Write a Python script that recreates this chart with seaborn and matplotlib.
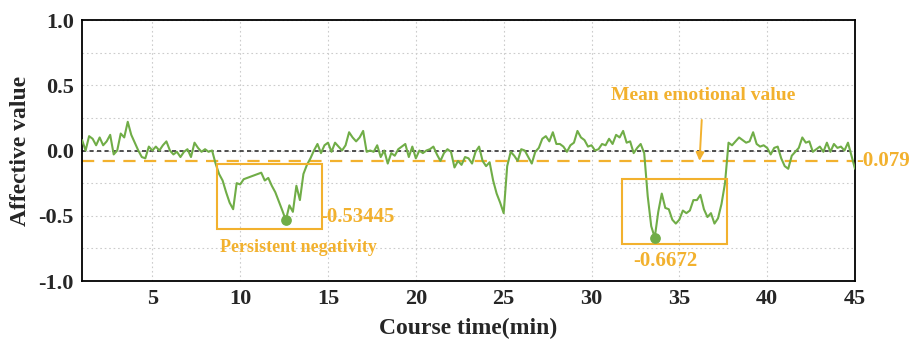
import numpy as np
import pandas as pd
import matplotlib
matplotlib.use("Agg")
import matplotlib.pyplot as plt
import seaborn as sns
from matplotlib.patches import Rectangle
from matplotlib.ticker import MultipleLocator

# affective value sampled every 0.2 min, 1.0 -> 45.0 (5 values per minute row)
affect_values = [
    0.08, 0.00, 0.11, 0.09, 0.04,      # 1
    0.10, 0.04, 0.07, 0.12, -0.03,     # 2
    0.00, 0.13, 0.10, 0.22, 0.12,      # 3
    0.06, 0.00, -0.05, -0.06, 0.03,    # 4
    0.00, 0.03, 0.00, 0.04, 0.07,      # 5
    0.00, -0.03, -0.01, -0.05, -0.01,  # 6
    0.01, -0.05, 0.06, 0.02, -0.01,    # 7
    0.01, -0.01, 0.00, -0.10, -0.18,   # 8
    -0.23, -0.32, -0.40, -0.45, -0.25, # 9
    -0.26, -0.22, -0.21, -0.20, -0.19, # 10
    -0.18, -0.17, -0.23, -0.21, -0.27, # 11
    -0.32, -0.39, -0.46, -0.53445, -0.42,  # 12
    -0.47, -0.27, -0.38, -0.18, -0.11, # 13
    -0.06, 0.00, 0.05, -0.02, 0.04,    # 14
    0.06, -0.01, 0.06, 0.03, 0.00,     # 15
    0.04, 0.14, 0.10, 0.07, 0.10,      # 16
    0.15, -0.01, 0.00, -0.01, 0.04,    # 17
    -0.05, 0.00, -0.10, -0.02, -0.04,  # 18
    0.01, 0.03, 0.05, -0.05, 0.03,     # 19
    -0.06, 0.00, -0.02, 0.00, 0.01,    # 20
    0.03, -0.03, -0.08, -0.02, 0.01,   # 21
    -0.01, -0.13, -0.08, -0.11, -0.05, # 22
    -0.06, -0.10, -0.01, 0.03, -0.08,  # 23
    -0.12, -0.09, -0.23, -0.33, -0.40, # 24
    -0.48, -0.12, -0.01, -0.04, -0.08, # 25
    0.01, 0.00, -0.05, -0.10, -0.01,   # 26
    0.02, 0.09, 0.11, 0.07, 0.14,      # 27
    0.05, 0.05, 0.03, -0.01, 0.04,     # 28
    0.06, 0.15, 0.10, 0.08, 0.03,      # 29
    0.04, 0.00, 0.01, 0.05, 0.04,      # 30
    0.09, 0.05, 0.12, 0.10, 0.15,      # 31
    0.06, 0.07, -0.02, 0.02, 0.05,     # 32
    -0.02, -0.35, -0.58, -0.6672, -0.47,   # 33
    -0.33, -0.44, -0.45, -0.53, -0.56, # 34
    -0.53, -0.46, -0.48, -0.46, -0.38, # 35
    -0.38, -0.34, -0.45, -0.51, -0.48, # 36
    -0.56, -0.52, -0.41, -0.25, 0.06,  # 37
    0.04, 0.07, 0.10, 0.08, 0.06,      # 38
    0.07, 0.14, 0.05, 0.03, 0.04,      # 39
    0.02, -0.03, 0.02, 0.03, -0.06,    # 40
    -0.12, -0.14, -0.04, -0.01, 0.02,  # 41
    0.10, 0.06, 0.07, -0.01, 0.01,     # 42
    0.03, -0.01, 0.06, -0.01, 0.05,    # 43
    0.02, 0.03, 0.00, 0.06, -0.04,     # 44
    -0.14,                             # 45
]
course_time = np.linspace(1, 45, len(affect_values))

mean_value = -0.079
low_points_t = [12.6, 33.6]
low_points_v = [-0.53445, -0.6672]
low_labels = ["-0.53445", "-0.6672"]
x_ticks = [5, 10, 15, 20, 25, 30, 35, 40, 45]
y_ticks = [-1.0, -0.5, 0.0, 0.5, 1.0]

GREEN = "#70AD47"
GOLD = "#F2B12E"

sns.set_style("white")
plt.rcParams["font.family"] = ["Liberation Serif", "DejaVu Serif"]
plt.rcParams["font.weight"] = "bold"
plt.rcParams["axes.labelweight"] = "bold"

df = pd.DataFrame({"time": course_time, "affect": affect_values})

fig = plt.figure(figsize=(9.12, 3.45), dpi=100)
ax = fig.add_axes([0.09, 0.1855, 0.8475, 0.7565])

ax.grid(which="major", axis="x", ls=(0, (1.5, 2.5)), color="#cccccc", lw=0.8)
ax.grid(which="both", axis="y", ls=(0, (1.5, 2.5)), color="#cccccc", lw=0.8)
ax.set_axisbelow(True)

sns.lineplot(data=df, x="time", y="affect", color=GREEN, lw=1.5, ax=ax, zorder=3)
ax.axhline(0, color="#333333", ls=(0, (2.5, 2)), lw=1.2, zorder=2)
ax.axhline(mean_value, color=GOLD, ls=(0, (5.5, 3.8)), lw=1.6, zorder=2)

# low point markers
ax.scatter(low_points_t, low_points_v, s=45, color=GREEN, zorder=4)

# boxes around the negative stretches
ax.add_patch(Rectangle((8.68, -0.60), 14.65 - 8.68, 0.50, fill=False,
                       ec=GOLD, lw=1.5, zorder=3))
ax.add_patch(Rectangle((31.76, -0.719), 37.73 - 31.76, 0.50, fill=False,
                       ec=GOLD, lw=1.5, zorder=3))

ax.text(14.55, -0.51, low_labels[0], color=GOLD, fontsize=15,
        fontweight="bold", ha="left", va="center")
ax.text(34.2, -0.85, low_labels[1], color=GOLD, fontsize=15,
        fontweight="bold", ha="center", va="center")
ax.text(8.85, -0.74, "Persistent negativity", color=GOLD, fontsize=13,
        fontweight="bold", ha="left", va="center")
ax.text(45.05, mean_value, f"{mean_value:.3f}", color=GOLD, fontsize=15,
        fontweight="bold", ha="left", va="center", clip_on=False)
ax.annotate("Mean emotional value", xy=(36.15, mean_value), xytext=(36.35, 0.42),
            color=GOLD, fontsize=14, fontweight="bold", ha="center", va="center",
            arrowprops=dict(arrowstyle="-|>", color=GOLD, lw=1.4,
                            shrinkA=9, shrinkB=0, mutation_scale=12))

ax.set_xlim(1, 45)
ax.set_ylim(-1.0, 1.0)
ax.set_xticks(x_ticks)
ax.set_yticks(y_ticks)
ax.xaxis.set_minor_locator(MultipleLocator(2.5))
ax.yaxis.set_minor_locator(MultipleLocator(0.25))
ax.set_yticklabels([f"{v:.1f}" for v in y_ticks])
ax.tick_params(which="both", direction="in", top=False, right=False,
               labelsize=16, width=1.0)
ax.tick_params(which="major", length=5, pad=6)
ax.tick_params(which="minor", length=3)

ax.set_xlabel("Course time(min)", fontsize=17, fontweight="bold", labelpad=6)
ax.set_ylabel("Affective value", fontsize=17, fontweight="bold", labelpad=5)

for side in ax.spines.values():
    side.set_color("black")
    side.set_linewidth(1.3)

fig.savefig("out.png", dpi=100)
